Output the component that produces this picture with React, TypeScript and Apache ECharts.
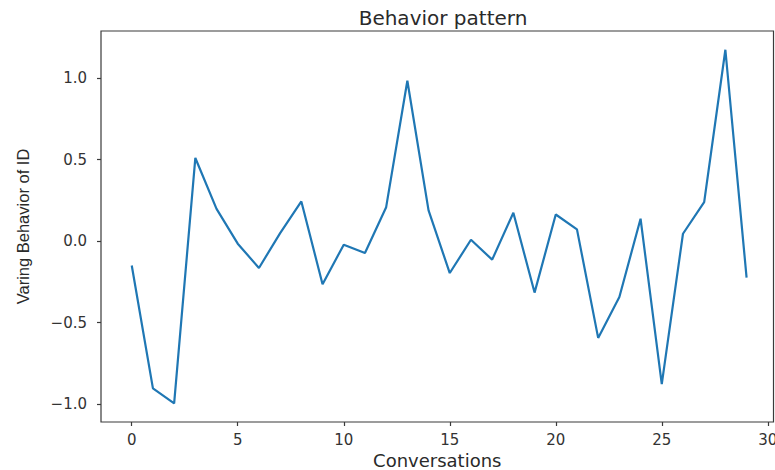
import React, { useEffect, useRef } from "react";
import * as echarts from "echarts";

const conversations: number[] = Array.from({ length: 30 }, (_, i) => i);
const behavior: number[] = [
  -0.15, -0.904, -0.996, 0.51, 0.198, -0.016, -0.165, 0.049, 0.243, -0.265,
  -0.022, -0.073, 0.208, 0.984, 0.188, -0.196, 0.008, -0.114, 0.174, -0.316,
  0.163, 0.072, -0.594, -0.343, 0.137, -0.878, 0.045, 0.239, 1.174, -0.224,
];
const xTicks: number[] = [0, 5, 10, 15, 20, 25, 30];
const yTicks: number[] = [-1.0, -0.5, 0.0, 0.5, 1.0];

const fmtY = (v: number) => v.toFixed(1).replace("-", "\u2212");

export default function App() {
  const ref = useRef<HTMLDivElement>(null);
  useEffect(() => {
    if (!ref.current) return;
    const chart = echarts.init(ref.current, undefined, { renderer: "svg" });
    chart.setOption({
      animation: false,
      backgroundColor: "#ffffff",
      title: {
        text: "Behavior pattern",
        left: 438,
        top: 3,
        textAlign: "center",
        textStyle: {
          fontFamily: "DejaVu Sans",
          fontSize: 20,
          fontWeight: "normal",
          color: "#2a2a2a",
        },
      },
      grid: {
        left: 101,
        top: 31,
        right: 1.5,
        bottom: 48,
        show: true,
        borderColor: "#3a3a3a",
        borderWidth: 1.2,
        containLabel: false,
        outerBoundsMode: "none",
      },
      xAxis: {
        type: "value",
        min: -1.45,
        max: 30.27,
        name: "Conversations",
        nameLocation: "middle",
        nameGap: 27,
        nameTextStyle: {
          fontFamily: "DejaVu Sans",
          fontSize: 18,
          color: "#2a2a2a",
        },
        splitLine: { show: false },
        axisLine: { show: false, onZero: false },
        axisTick: {
          show: true,
          inside: false,
          length: 4,
          customValues: xTicks,
          lineStyle: { color: "#3a3a3a", width: 1.2 },
        },
        axisLabel: {
          customValues: xTicks,
          margin: 10,
          fontFamily: "DejaVu Sans",
          fontSize: 15,
          color: "#333333",
        },
      },
      yAxis: {
        type: "value",
        min: -1.11,
        max: 1.289,
        name: "Varing Behavior of ID",
        nameLocation: "middle",
        nameGap: 70,
        nameRotate: 90,
        nameTextStyle: {
          fontFamily: "Liberation Sans",
          fontSize: 16.5,
          color: "#2a2a2a",
        },
        splitLine: { show: false },
        axisLine: { show: false, onZero: false },
        axisTick: {
          show: true,
          inside: false,
          length: 4,
          customValues: yTicks,
          lineStyle: { color: "#3a3a3a", width: 1.2 },
        },
        axisLabel: {
          customValues: yTicks,
          margin: 14,
          fontFamily: "DejaVu Sans",
          fontSize: 15,
          color: "#333333",
          formatter: (v: number) => fmtY(v),
        },
      },
      series: [
        {
          type: "line",
          data: conversations.map((x, i) => [x, behavior[i]]),
          showSymbol: false,
          symbol: "none",
          lineStyle: { color: "#1f77b4", width: 2.2 },
          itemStyle: { color: "#1f77b4" },
        },
      ],
    });
    return () => chart.dispose();
  }, []);
  return (
    <div
      ref={ref}
      style={{ position: "fixed", left: 0, top: 0, width: 775, height: 470 }}
    />
  );
}
